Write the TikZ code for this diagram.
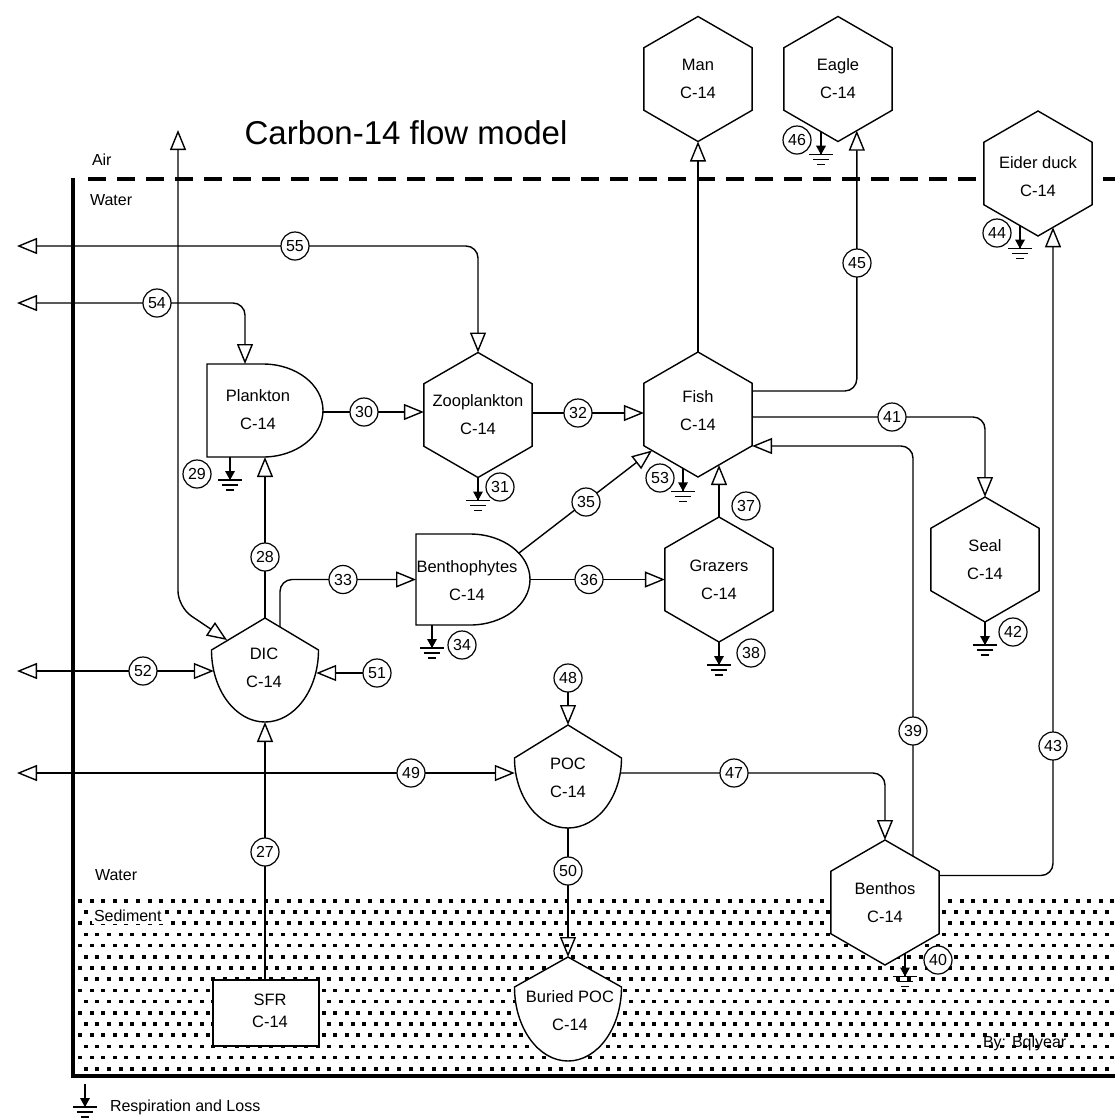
\documentclass[tikz,border=0pt]{standalone}
\usepackage{fontspec}
\setmainfont{Liberation Sans}
\usetikzlibrary{shapes.geometric, arrows.meta, calc}
\begin{document}
\begin{tikzpicture}[x=1pt,y=-1pt,
  every node/.style={inner sep=0pt, outer sep=0pt},
  hexa/.style={draw, line width=1.4pt, fill=white, regular polygon, regular polygon sides=6, shape border rotate=30, minimum size=125pt},
  outl/.style={draw, line width=1.4pt, fill=white},
  txt/.style={font=\fontsize{16.5}{28}\selectfont, align=center},
  txtb/.style={font=\fontsize{16.5}{22}\selectfont, align=center},
  plain/.style={font=\fontsize{16}{18}\selectfont, anchor=west},
  lbl/.style={draw, circle, line width=1.2pt, fill=white, minimum size=28pt, font=\fontsize{16}{16}\selectfont},
  arr/.style={line width=1.4pt, -{Triangle[open, length=20pt, width=16pt]}},
  barr/.style={line width=1.4pt, {Triangle[open, length=20pt, width=16pt]}-{Triangle[open, length=20pt, width=16pt]}},
  gnd/.pic={
    \draw[line width=1.3pt] (0,0) -- (0,23);
    \fill (-5,14) -- (5,14) -- (0,23) -- cycle;
    \draw[line width=1.3pt] (-12,23) -- (12,23) (-8,28) -- (8,28) (-4,33) -- (4,33);
  }
]
\useasboundingbox (0,0) rectangle (1115,1120);

% sediment texture
\foreach \r in {0,...,15}{
  \foreach \c in {0,...,89}{
    \fill ({78+11.6*\c+5.8*mod(\r,2)},{899+11.2*\r}) rectangle ++(4,3.6);
  }
}
\node[plain, fill=white, inner sep=2pt] (sedlbl) at (92,916) {Sediment};
\node[plain] (bylbl) at (983,1043) {By: Bqlyear};

% frame
\draw[line width=3.5pt] (73,178) -- (73,1076) -- (1115,1076);
\draw[line width=4pt, dash pattern=on 18pt off 11pt] (88,179) -- (1115,179);

% title and zone labels
\node[font=\fontsize{33}{33}\selectfont] (title) at (406,133) {Carbon-14 flow model};
\node[plain] (airlbl) at (92,160) {Air};
\node[plain] (waterlbl) at (90,200) {Water};
\node[plain] (waterlbl2) at (95,875) {Water};

% hexagon compartments
\node[hexa] (man) at (698,79) {};
\node[hexa] (eagle) at (838,79) {};
\node[hexa] (eider) at (1038,173.5) {};
\node[hexa] (zoo) at (478,415) {};
\node[hexa] (fish) at (698,414.5) {};
\node[hexa] (grazers) at (719,579.5) {};
\node[hexa] (seal) at (985,559.5) {};
\node[hexa] (benthos) at (885,902.5) {};

% other compartments
\draw[outl] (207,364) -- (263,364) arc[start angle=-90, end angle=90, x radius=60, y radius=46.5] -- (207,457) -- cycle;
\draw[outl] (416,534) -- (470,534) arc[start angle=-90, end angle=90, x radius=60, y radius=45.5] -- (416,625) -- cycle;
\draw[outl] (211.5,650) -- (265,618) -- (318.5,650) arc[start angle=0, end angle=180, x radius=53.5, y radius=72] -- cycle;
\draw[outl] (514.5,758) -- (568,725) -- (621.5,758) arc[start angle=0, end angle=180, x radius=53.5, y radius=70] -- cycle;
\draw[outl] (514.5,987) -- (568,957) -- (621.5,987) arc[start angle=0, end angle=180, x radius=53.5, y radius=74] -- cycle;
\draw[outl] (213,980) rectangle (319,1046);

% texts
\node[txt] (man-t) at (man) {Man\\C-14};
\node[txt] (eagle-t) at (eagle) {Eagle\\C-14};
\node[txt] (eider-t) at ($(eider)+(0,3)$) {Eider duck\\C-14};
\node[txt] (zoo-t) at (zoo) {Zooplankton\\C-14};
\node[txt] (fish-t) at ($(fish)+(0,-4)$) {Fish\\C-14};
\node[txt] (grazers-t) at (grazers) {Grazers\\C-14};
\node[txt] (seal-t) at (seal) {Seal\\C-14};
\node[txt] (benthos-t) at (benthos) {Benthos\\C-14};
\node[txt] (plank) at (258,410) {Plankton\\C-14};
\node[txt] (bphy) at (467,581) {Benthophytes\\C-14};
\node[txt] (dic) at (264,668) {DIC\\C-14};
\node[txt] (poc) at (568,778) {POC\\C-14};
\node[txt] (bpoc) at (570,1011) {Buried POC\\C-14};
\node[txtb] (sfr) at (270,1011) {SFR\\C-14};

% attachment points
\coordinate (out55) at (17,246);
\coordinate (out54) at (17,303);
\coordinate (out52) at (17,671);
\coordinate (out49) at (17,773);
\coordinate (air) at (178,130);
\coordinate (airbend) at (178,607);
\coordinate (pl-top) at (245,364);
\coordinate (pl-bot) at (265,457);
\coordinate (pl-r) at (323,412);
\coordinate (bp-l) at (416,579.5);
\coordinate (bp-r) at (530,579.5);
\coordinate (bp-ur) at (519,553);
\coordinate (dic-top) at (265,618);
\coordinate (dic-ul) at (227,640);
\coordinate (dic-ur) at (280,627);
\coordinate (dic-l) at (213.8,671);
\coordinate (dic-r) at (316.2,673);
\coordinate (dic-bot) at (265,722);
\coordinate (poc-top) at (568,725);
\coordinate (poc-l) at (514.8,773);
\coordinate (poc-r) at (621.2,773);
\coordinate (poc-bot) at (568,828);
\coordinate (bpoc-top) at (568,957);
\coordinate (sfr-top) at (265,980);

% source labels
\node[lbl] (l51) at (377,673) {51};
\node[lbl] (l48) at (568,678) {48};

% connectors
\draw[barr, rounded corners=12] (out55) -| (zoo.90);
\draw[barr, rounded corners=12] (out54) -| (pl-top);
\draw[barr, rounded corners=16] (air) -- (airbend) -- (dic-ul);
\draw[barr] (out52) -- (dic-l);
\draw[barr] (out49) -- (poc-l);
\draw[arr] (l51) -- (dic-r);
\draw[arr] (l48) -- (poc-top);
\draw[arr] (dic-top) -- (pl-bot);
\draw[arr, rounded corners=12] (dic-ur) |- (bp-l);
\draw[arr] (sfr-top) -- (dic-bot);
\draw[arr, rounded corners=12] (poc-r) -| (benthos.90);
\draw[arr] (poc-bot) -- (bpoc-top);
\draw[arr] (pl-r) -- (pl-r -| zoo.180);
\draw[arr] ($(zoo.0)+(0,-2)$) -- ($(zoo.0 -| fish.180)+(0,-2)$);
\draw[arr] (bp-ur) -- ($(fish.center)+(-46,36)$);
\draw[arr] (bp-r) -- (grazers.180);
\draw[arr] (grazers.90) -- ($(fish.center)+(21,50.5)$);
\draw[arr, rounded corners=12] ($(fish.center)+(54.1,2.5)$) -| (seal.90);
\draw[arr, rounded corners=12] ($(benthos.center)+(28,-46.3)$) |- ($(fish.center)+(54.1,31.5)$);
\draw[arr, rounded corners=12] ($(benthos.center)+(54.1,-27)$) -| ($(eider.center)+(15,53.8)$);
\draw[arr] (fish.90) -- (man.270);
\draw[arr, rounded corners=12] ($(fish.center)+(54.1,-23.5)$) -| (eagle.290);

% flow labels on the connectors
\foreach \n/\x/\y in {55/295/246, 54/157/303, 30/364/412, 32/578/413, 35/586/502, 36/589/579.5, 41/892/417, 39/913/731, 43/1053/746, 45/857/263, 28/265/557, 33/343/579.5, 52/143/671, 49/411/773, 47/734/773, 50/568/871, 27/265/852}{
  \node[lbl] (l\n) at (\x,\y) {\n};
}
% respiration labels
\node[lbl] (l29) at (197,474) {29};
\node[lbl] (l31) at (500,487) {31};
\node[lbl] (l53) at (660,478) {53};
\node[lbl] (l37) at (746,506) {37};
\node[lbl] (l38) at (751,653) {38};
\node[lbl] (l42) at (1013,632) {42};
\node[lbl] (l40) at (938,960) {40};
\node[lbl] (l46) at (797,140) {46};
\node[lbl] (l44) at (997,233) {44};
\node[lbl] (l34) at (462,645) {34};

% respiration and loss symbols
\pic at (230,457) {gnd};
\pic at (478,477.5) {gnd};
\pic at (683,468.3) {gnd};
\pic at (432,625) {gnd};
\pic at (719,642) {gnd};
\pic at (985,622) {gnd};
\pic at (905,953.5) {gnd};
\pic at (821,131.7) {gnd};
\pic at (1020,225.6) {gnd};
\pic at (85,1084) {gnd};
\node[plain] (legend) at (110,1107) {Respiration and Loss};
\end{tikzpicture}
\end{document}
